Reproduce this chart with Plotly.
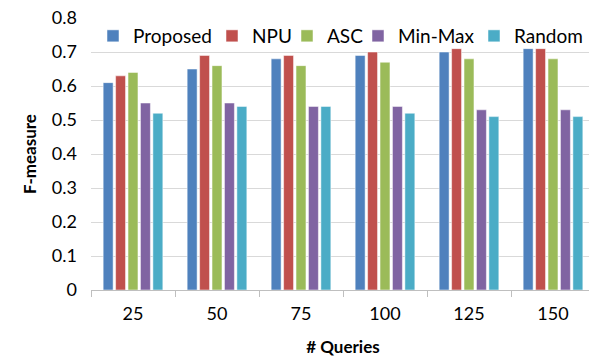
import plotly.graph_objects as go

categories = ["25", "50", "75", "100", "125", "150"]
series_names = ["Proposed", "NPU", "ASC", "Min-Max", "Random"]
proposed = [0.61, 0.65, 0.68, 0.69, 0.70, 0.71]
npu = [0.63, 0.69, 0.69, 0.70, 0.71, 0.71]
asc = [0.64, 0.66, 0.66, 0.67, 0.68, 0.68]
minmax = [0.55, 0.55, 0.54, 0.54, 0.53, 0.53]
random_ = [0.52, 0.54, 0.54, 0.52, 0.51, 0.51]
colors = ["#4F81BD", "#C0504D", "#9BBB59", "#8064A2", "#4BACC6"]
y_ticks = [0, 0.1, 0.2, 0.3, 0.4, 0.5, 0.6, 0.7, 0.8]
y_ticklabels = ["0", "0.1", "0.2", "0.3", "0.4", "0.5", "0.6", "0.7", "0.8"]

FONT = "Lato, 'Open Sans', sans-serif"
# page has an 8px default body margin, so the figure is 8px smaller
OFF = 8
W, H = 597 - OFF, 360 - OFF

# legend entry text start positions (page px from left)
legend_text_x = [133, 252, 327, 398, 514]
legend_center_y = 36

fig = go.Figure()
legend_layouts = {}
for i, (name, vals, c) in enumerate(zip(series_names, [proposed, npu, asc, minmax, random_], colors)):
    lg = "legend" if i == 0 else f"legend{i+1}"
    fig.add_trace(go.Bar(x=categories, y=vals, name=name, legend=lg, showlegend=True,
                         marker=dict(color=c, line=dict(color="white", width=0.5))))
    legend_layouts[lg] = dict(
        orientation="h", xref="container", yref="container",
        x=(legend_text_x[i] - OFF - 40) / W, xanchor="left",
        y=1 - (legend_center_y - OFF) / H, yanchor="middle",
        font=dict(size=19), bgcolor="rgba(0,0,0,0)", itemwidth=30,
        borderwidth=0,
    )

fig.update_layout(
    width=W, height=H,
    showlegend=True,
    margin=dict(l=91 - OFF, r=2, t=18 - OFF, b=70, autoexpand=False),
    paper_bgcolor="white", plot_bgcolor="white",
    barmode="group", bargap=0.26, bargroupgap=0.2,
    font=dict(family=FONT, size=18, color="#000000"),
    xaxis=dict(type="category", tickson="boundaries", ticks="outside", ticklen=6,
               tickcolor="#BFBFBF", showline=True, linecolor="#BFBFBF", linewidth=1,
               showgrid=False, ticklabelstandoff=7,
               title=dict(text="<b># Queries</b>", font=dict(size=17), standoff=18)),
    yaxis=dict(range=[0, 0.8001], tickvals=y_ticks, ticktext=y_ticklabels,
               showgrid=True, gridcolor="#D9D9D9", gridwidth=1, zeroline=False,
               showline=False, ticks="", ticklabelstandoff=13, ticklabeloverflow="allow",
               title=dict(text="<b>F-measure</b>", font=dict(size=17), standoff=10)),
    **legend_layouts,
)

fig.write_html("out.html")
